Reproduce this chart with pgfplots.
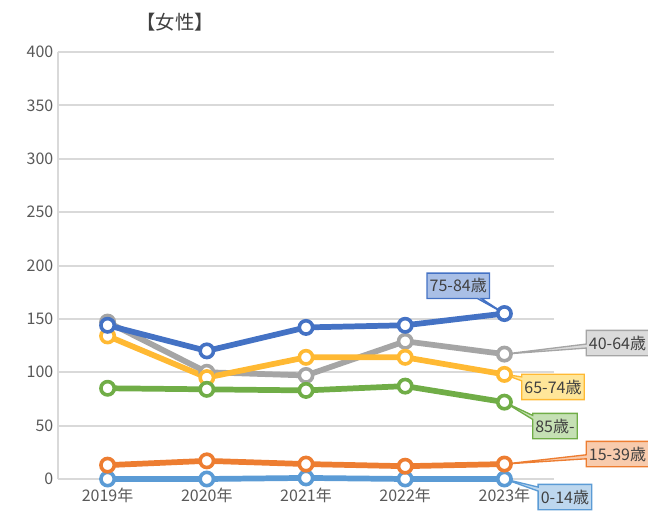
\documentclass[border=0pt]{standalone}
\usepackage{pgfplots}
\pgfplotsset{compat=1.18}
\usepackage{fontspec}
\setmainfont{Noto Sans CJK JP}
\usetikzlibrary{shapes.callouts}
\definecolor{cA}{HTML}{5B9BD5}\definecolor{fA}{HTML}{BDD7EE}
\definecolor{cB}{HTML}{ED7D31}\definecolor{fB}{HTML}{F8CBAD}
\definecolor{cC}{HTML}{A5A5A5}\definecolor{fC}{HTML}{DBDBDB}
\definecolor{cD}{HTML}{FFB933}\definecolor{fD}{HTML}{FFE699}
\definecolor{cE}{HTML}{4472C4}\definecolor{fE}{HTML}{A9BFE6}
\definecolor{cF}{HTML}{70AD47}\definecolor{fF}{HTML}{C5E0B4}
\definecolor{gridc}{HTML}{D9D9D9}
\definecolor{tickc}{HTML}{595959}
\definecolor{txtc}{HTML}{404040}
\begin{document}
\begin{tikzpicture}
\path[use as bounding box] (-43.5pt,-23.25pt) rectangle (442.5pt,359.25pt);
\begin{axis}[
  at={(0,0)}, anchor=south west,
  scale only axis, width=372pt, height=320.25pt,
  xmin=-0.5, xmax=4.5, ymin=0, ymax=400,
  xtick={0,1,2,3,4},
  xticklabels={2019年,2020年,2021年,2022年,2023年},
  ytick={0,50,100,150,200,250,300,350,400},
  ymajorgrids, grid style={gridc, line width=1.5pt},
  axis line style={gridc, line width=1.5pt},
  axis x line*=bottom, axis y line*=left,
  x axis line style={draw=none},
  major tick length=3pt,
  ytick style={gridc, line width=1.5pt},
  xtick style={draw=none},
  tick label style={font=\fontsize{12}{14}\selectfont, text=tickc},
  xticklabel style={yshift=-3pt},
  /pgf/number format/assume math mode=true,
  clip=false,
  ser/.style={line width=4.3pt, mark=*, mark size=5pt,
     mark options={fill=white, line width=2.7pt, solid}},
]
\addplot[cA, ser] coordinates {(0,0) (1,0) (2,1) (3,0) (4,0)};
\addplot[cB, ser] coordinates {(0,13) (1,17) (2,14) (3,12) (4,14)};
\addplot[cC, ser] coordinates {(0,147) (1,100) (2,97) (3,129) (4,117)};
\addplot[cD, ser] coordinates {(0,134) (1,95) (2,114) (3,114) (4,98)};
\addplot[cE, ser] coordinates {(0,144) (1,120) (2,142) (3,144) (4,155)};
\addplot[cF, ser] coordinates {(0,85) (1,84) (2,83) (3,87) (4,72)};
\tikzset{lab/.style={rectangle callout, callout pointer width=3pt, line width=1pt,
   font=\fontsize{12}{14}\selectfont, text=txtc, inner sep=2pt, minimum height=19pt}}
\node[lab, fill=fE, draw=cE, callout absolute pointer={(axis cs:4,155)}] at (axis cs:3.535,181) {75-84歳};
\node[lab, fill=fC, draw=cC, callout absolute pointer={(axis cs:4,117)}] at (axis cs:5.14,127.4) {40-64歳};
\node[lab, fill=fD, draw=cD, callout absolute pointer={(axis cs:4,98)}] at (axis cs:4.49,86.2) {65-74歳};
\node[lab, fill=fF, draw=cF, callout absolute pointer={(axis cs:4,72)}] at (axis cs:4.51,49.6) {85歳-};
\node[lab, fill=fB, draw=cB, callout absolute pointer={(axis cs:4,14)}] at (axis cs:5.14,23.4) {15-39歳};
\node[lab, fill=fA, draw=cA, callout absolute pointer={(axis cs:4,0)}] at (axis cs:4.61,-16.9) {0-14歳};
\end{axis}
\node[font=\fontsize{14.5}{16}\selectfont, text=txtc] at ({(175-58)*0.75pt},{(479-22)*0.75pt}) {【女性】};
\end{tikzpicture}
\end{document}
